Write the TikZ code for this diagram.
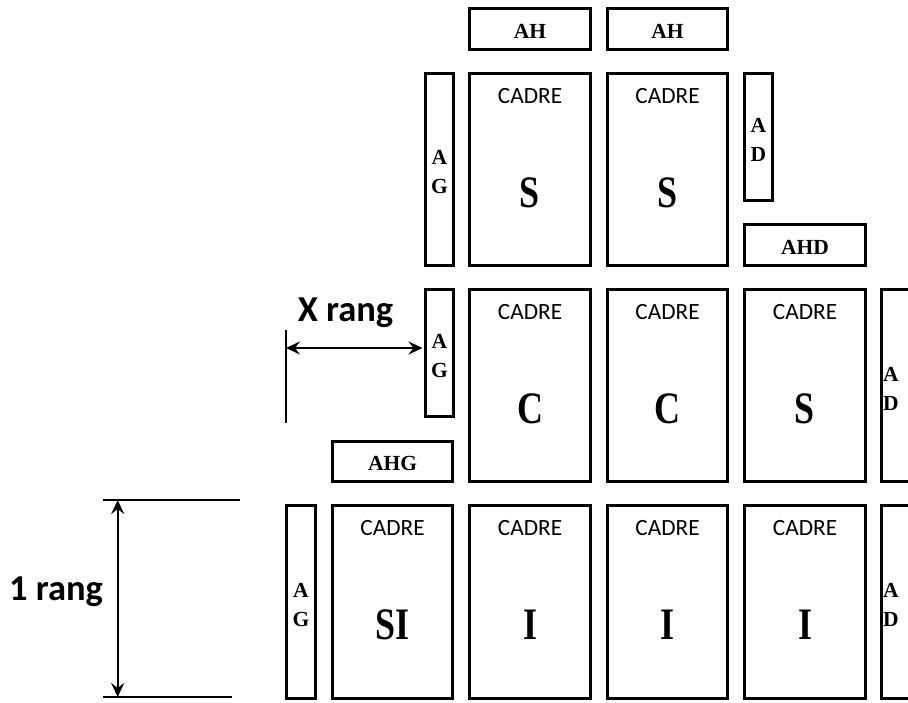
\documentclass[tikz,border=0pt]{standalone}
\usepackage{fontspec}
\setmainfont{Liberation Serif}
\newfontfamily\labelsans{Carlito}
\newfontfamily\narrowserif[FakeStretch=0.8]{Liberation Serif}
\usetikzlibrary{calc,arrows.meta}

\tikzset{
  panel/.style={draw, line width=3pt, inner sep=0pt, outer sep=0pt},
  cadre/.style={anchor=base, inner sep=0pt, font=\labelsans\fontsize{23.3}{24}\selectfont},
  letter/.style={anchor=base, inner sep=0pt, font=\narrowserif\bfseries\fontsize{45}{45}\selectfont},
  tag/.style={anchor=base, inner sep=0pt, font=\bfseries\fontsize{21.5}{22}\selectfont},
  vtag/.style={inner sep=0pt, align=center, font=\bfseries\fontsize{21.5}{29}\selectfont},
  rang/.style={anchor=base, inner sep=0pt, font=\labelsans\bfseries\fontsize{36.5}{37}\selectfont},
  ext/.style={line width=1.6pt},
  dimarrow/.style={line width=2.4pt,
    {Stealth[length=14pt,width=13pt,inset=5pt]}-{Stealth[length=14pt,width=13pt,inset=5pt]}},
}

% panel from its outer corners (x1,y1)-(x2,y2)
\newcommand\panelbox[5]{%
  \node[panel, minimum width={#4-#2-3}, minimum height={#5-#3-3}]
    (#1) at ({(#2+#4)/2},{(#3+#5)/2}) {};}
% frame panel with its CADRE title and letter
\newcommand\cadrebox[6]{%
  \panelbox{#1}{#2}{#3}{#4}{#5}
  \node[cadre] (#1-title) at ($(#1.north)+(0,29.5)$) {CADRE};
  \node[letter] (#1-kind) at ($(#1.north)+(0,133.5)$) {#6};}
% upright post panel with stacked letters
\newcommand\postbox[7]{%
  \panelbox{#1}{#2}{#3}{#4}{#5}
  \node[vtag] (#1-text) at ($(#1.center)+(#6,3)$) {#7};}
% flat panel with a single label
\newcommand\flatbox[6]{%
  \panelbox{#1}{#2}{#3}{#4}{#5}
  \node[tag] (#1-text) at ($(#1.center)+(0,9)$) {#6};}

\begin{document}
\begin{tikzpicture}[x=1pt, y=-1pt]
\useasboundingbox (0,0) rectangle (908,702);
\clip (0,0) rectangle (908,702);

% top row
\flatbox{ah1}{468}{7}{592}{51}{AH}
\flatbox{ah2}{606}{7}{729}{51}{AH}
\postbox{agt}{424}{72}{455}{267}{0}{A\\G}
\cadrebox{s1}{468}{72}{592}{267}{S}
\cadrebox{s2}{606}{72}{729}{267}{S}
\postbox{adt}{743}{72}{774}{202}{0}{A\\D}
\flatbox{ahd}{743}{223}{867}{267}{AHD}

% middle row
\postbox{agm}{424}{288}{455}{418}{0}{A\\G}
\flatbox{ahg}{331}{440}{454}{483}{AHG}
\cadrebox{c1}{468}{288}{592}{483}{C}
\cadrebox{c2}{606}{288}{729}{483}{C}
\cadrebox{s3}{743}{288}{867}{483}{S}
\postbox{adm}{880}{288}{912}{483}{-5}{A\\D}

% bottom row
\postbox{agb}{285}{504}{317}{700}{0}{A\\G}
\cadrebox{si}{331}{504}{454}{700}{SI}
\cadrebox{i1}{468}{504}{592}{700}{I}
\cadrebox{i2}{606}{504}{729}{700}{I}
\cadrebox{i3}{743}{504}{867}{700}{I}
\postbox{adb}{880}{504}{912}{700}{-5}{A\\D}

% offset of the upper rows
\node[rang] (xrang) at (345.5,321.7) {X rang};
\coordinate (xr-top) at (286,330);
\coordinate (xr-bot) at (286,423);
\coordinate (xr-start) at (286,348);
\draw[ext] (xr-top) -- (xr-bot);
\draw[dimarrow, shorten >=3pt] (xr-start) -- (agm.west |- xr-start);

% height of one row
\node[rang] (onerang) at (56,600.5) {1 rang};
\coordinate (r1-a) at (103,500);
\coordinate (r1-b) at (240,500);
\coordinate (r1-c) at (103,697);
\coordinate (r1-d) at (232,697);
\coordinate (r1-up) at (117.7,500);
\coordinate (r1-dn) at (117.7,697);
\draw[ext] (r1-a) -- (r1-b);
\draw[ext] (r1-c) -- (r1-d);
\draw[dimarrow] (r1-up) -- (r1-dn);
\end{tikzpicture}
\end{document}
